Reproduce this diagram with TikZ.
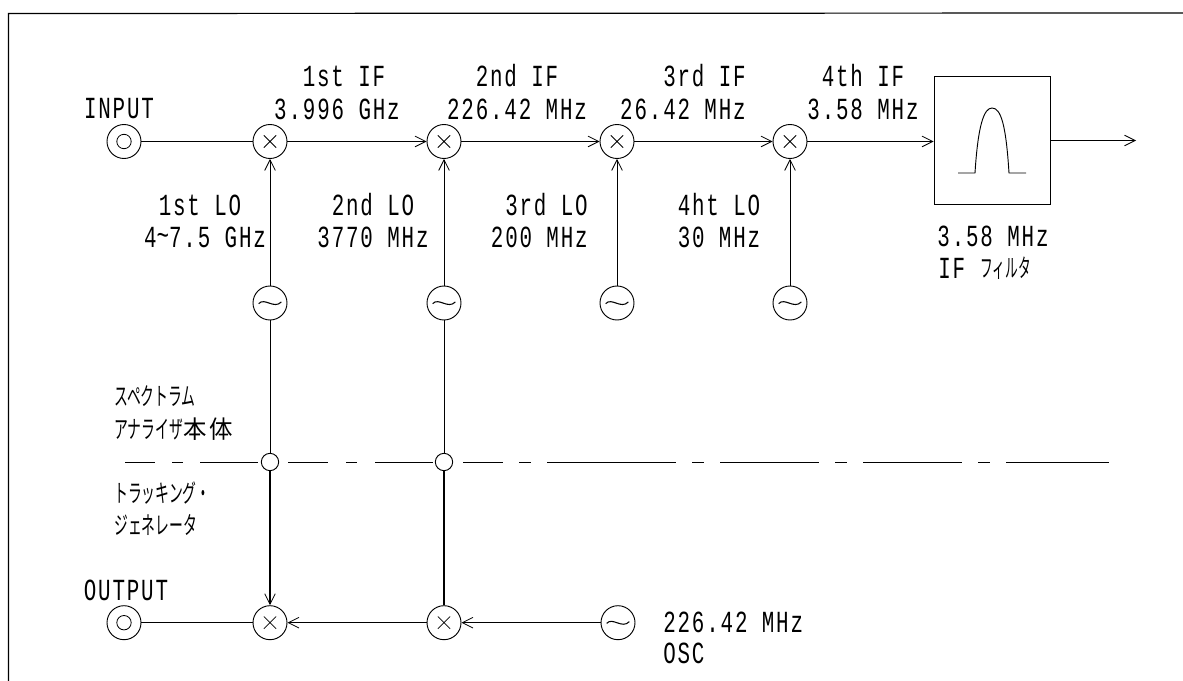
\documentclass[tikz,border=0pt]{standalone}
\usepackage{fontspec}
\usetikzlibrary{arrows.meta}
\newfontfamily\labelfont[FakeStretch=0.68,LetterSpace=6]{Liberation Mono}
\newfontfamily\kanafont[FakeStretch=0.56]{Noto Sans CJK JP}
\newfontfamily\smallkana[FakeStretch=0.5]{Noto Sans CJK JP}
\newfontfamily\widekana[FakeStretch=0.95]{Noto Sans CJK JP}
\tikzset{
  port/.style={draw,circle,minimum size=25.5pt,inner sep=0pt,line width=.7pt,
    path picture={\draw[line width=.6pt] (path picture bounding box.center) circle (5.4pt);}},
  mixer/.style={draw,circle,fill=white,minimum size=25.5pt,inner sep=0pt,line width=.7pt,
    path picture={\draw[line width=.55pt]
      ([shift={(-4.6pt,-4.6pt)}]path picture bounding box.center) -- ([shift={(4.6pt,4.6pt)}]path picture bounding box.center)
      ([shift={(-4.6pt,4.6pt)}]path picture bounding box.center) -- ([shift={(4.6pt,-4.6pt)}]path picture bounding box.center);}},
  osc/.style={draw,circle,fill=white,minimum size=25.5pt,inner sep=0pt,line width=.7pt,
    path picture={\draw[line width=.8pt]
      ([shift={(-8.5pt,-.5pt)}]path picture bounding box.center)
      .. controls ([shift={(-4pt,4.5pt)}]path picture bounding box.center) and ([shift={(3pt,-5pt)}]path picture bounding box.center)
      .. ([shift={(8.5pt,.8pt)}]path picture bounding box.center);}},
  junction/.style={draw,circle,fill=white,minimum size=13pt,inner sep=0pt,line width=.7pt},
  filterbox/.style={draw,minimum width=87pt,minimum height=96.5pt,inner sep=0pt,line width=.7pt},
  lbl/.style={inner sep=0pt,font=\labelfont\fontsize{23}{23}\selectfont},
  jlbl/.style={inner sep=0pt,anchor=base west,font=\kanafont\fontsize{18.5}{18.5}\selectfont},
  sig/.style={line width=.7pt},
  arrow/.style={sig,-{Straight Barb[length=8pt,width=8pt,line width=.6pt]},shorten >=0pt},
  lower/.style={line width=.95pt},
  border/.style={line width=.9pt},
  sep/.style={line width=.75pt}
}
\begin{document}
\begin{tikzpicture}[x=.75pt,y=-.75pt]
\useasboundingbox (0,0) rectangle (1183,681);
% frame
\coordinate (fa) at (8.5,681);
\coordinate (fb) at (8.5,13.5);
\coordinate (fc) at (1183,13);
\draw[border] (fa) -- (fb) -- (fc);
% input row
\node[port] (in) at (124,141.5) {};
\node[mixer] (m1) at (270,141.5) {};
\node[mixer] (m2) at (444,141.5) {};
\node[mixer] (m3) at (617,141.5) {};
\node[mixer] (m4) at (790,141.5) {};
\node[filterbox] (flt) at (992,140.5) {};
\coordinate (fout) at (1136,140.5);
% oscillators
\node[osc] (o1) at (270,303) {};
\node[osc] (o2) at (444,303) {};
\node[osc] (o3) at (617,303) {};
\node[osc] (o4) at (790,303) {};
% junctions
\node[junction] (j1) at (270,462) {};
\node[junction] (j2) at (444,462) {};
% output row
\node[port] (out) at (124,622.7) {};
\node[mixer] (t1) at (270,622.7) {};
\node[mixer] (t2) at (444,622.7) {};
\node[osc] (o5) at (618,622.7) {};
% connectors
\draw[sig] (in) -- (m1);
\draw[arrow] (m1) -- (m2);
\draw[arrow] (m2) -- (m3);
\draw[arrow] (m3) -- (m4);
\draw[arrow] (m4) -- (flt.west |- m4);
\draw[arrow] (flt) -- (fout);
\draw[arrow] (o1) -- (m1);
\draw[arrow] (o2) -- (m2);
\draw[arrow] (o3) -- (m3);
\draw[arrow] (o4) -- (m4);
\draw[sig] (o1) -- (j1);
\draw[sig] (o2) -- (j2);
\draw[arrow,lower] (j1) -- (t1);
\draw[lower] (j2) -- (t2);
\draw[arrow] (o5) -- (t2);
\draw[arrow] (t2) -- (t1);
\draw[sig] (out) -- (t1);
% divider
\coordinate (sl) at (125,462);
\coordinate (sr) at (1110,462);
\draw[sep,dash pattern=on 22.5pt off 12.75pt on 8.25pt off 12.75pt on 43.5pt off 100pt] (sl) -- (j1);
\draw[sep,dash pattern=on 0pt off 6.75pt on 30pt off 13.5pt on 8.25pt off 13.5pt on 43.5pt off 100pt] (j1) -- (j2);
\draw[sep,dash pattern=on 0pt off 7.5pt on 30pt off 12pt on 9pt off 12pt on 96.75pt off 12pt on 9pt off 12pt on 74.25pt off 12pt on 9pt off 12pt on 74.25pt off 12pt on 9pt off 12pt on 77pt off 100pt] (j2) -- (sr);
% filter curve
\coordinate (c0) at (958,173);
\coordinate (c1) at (975,173);
\coordinate (c2) at (992,108);
\coordinate (c3) at (1009,173);
\coordinate (c4) at (1026,173);
\draw[sig] (c0) -- (c1) .. controls (978,125) and (984,108) .. (c2) .. controls (1001,108) and (1006,125) .. (c3) -- (c4);
% labels
\node[lbl,anchor=base] (l1a) at (344,87) {1st IF};
\node[lbl,anchor=base] (l1b) at (337,120) {3.996 GHz};
\node[lbl,anchor=base] (l2a) at (517,87) {2nd IF};
\node[lbl,anchor=base] (l2b) at (517,120) {226.42 MHz};
\node[lbl,anchor=base east] (l3a) at (746,87) {3rd IF};
\node[lbl,anchor=base east] (l3b) at (746,120) {26.42 MHz};
\node[lbl,anchor=base] (l4a) at (863,87) {4th IF};
\node[lbl,anchor=base] (l4b) at (863,120) {3.58 MHz};
\node[lbl,anchor=base] (linp) at (119,119) {INPUT};
\node[lbl,anchor=base] (lo1a) at (200,216) {1st LO};
\node[lbl,anchor=base] (lo1b) at (205,248) {4\raisebox{2pt}{\~{}}7.5 GHz};
\node[lbl,anchor=base] (lo2a) at (373,216) {2nd LO};
\node[lbl,anchor=base] (lo2b) at (373,248) {3770 MHz};
\node[lbl,anchor=base east] (lo3a) at (588,216) {3rd LO};
\node[lbl,anchor=base east] (lo3b) at (588,248) {200 MHz};
\node[lbl,anchor=base] (lo4a) at (719,216) {4ht LO};
\node[lbl,anchor=base] (lo4b) at (719,248) {30 MHz};
\node[lbl,anchor=base] (lf1) at (993,247) {3.58 MHz};
\node[lbl,anchor=base west] (lf2) at (938,279) {IF};
\node[jlbl,font=\smallkana\fontsize{19}{19}\selectfont] (lf3) at (980,277) {フィルタ};
\node[lbl,anchor=base] (lout) at (126,600) {OUTPUT};
\node[lbl,anchor=base west] (los1) at (663,632) {226.42 MHz};
\node[lbl,anchor=base west] (los2) at (663,663) {OSC};
\node[jlbl] (ja) at (114,405) {スペクトラム};
\node[jlbl] (jb) at (114,438) {アナライザ{\widekana 本\hspace{2pt}体}};
\node[jlbl] (jc) at (114,502) {トラッキング・};
\node[jlbl] (jd) at (114,534) {ジェネレータ};
\end{tikzpicture}
\end{document}
